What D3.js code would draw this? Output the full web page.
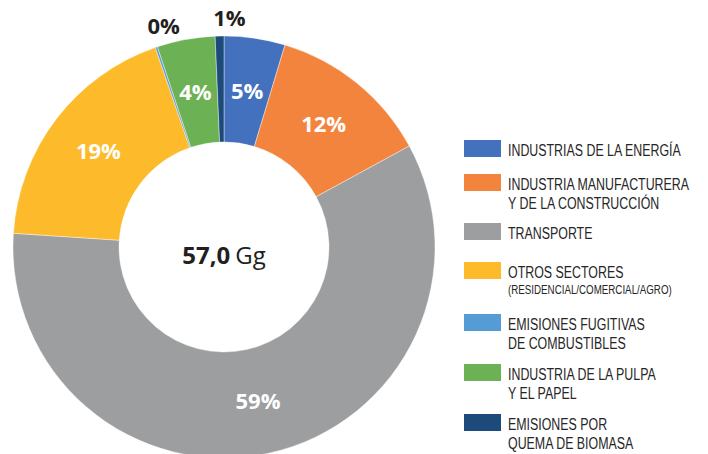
<!DOCTYPE html>
<html>
<head>
    <meta charset="utf-8">
    <title>Emisiones por sector</title>
    <style>
        body { margin: 0; background: #fff; }
        svg { display: block; }
        .pct { font-family: "Open Sans", sans-serif; font-weight: 700; font-size: 22px; }
        .leg { font-family: "Liberation Sans", Arial, sans-serif; fill: #262626; }
    </style>
    <script src="https://d3js.org/d3.v7.min.js"></script>
</head>
<body>
    <div id="chart"></div>

    <script>
// sectores, en el orden del grafico (sentido horario desde arriba)
var categories = [
    ['INDUSTRIAS DE LA ENERGÍA'],
    ['INDUSTRIA MANUFACTURERA', 'Y DE LA CONSTRUCCIÓN'],
    ['TRANSPORTE'],
    ['OTROS SECTORES'],
    ['EMISIONES FUGITIVAS', 'DE COMBUSTIBLES'],
    ['INDUSTRIA DE LA PULPA', 'Y EL PAPEL'],
    ['EMISIONES POR', 'QUEMA DE BIOMASA']
];
var subNotes = ['', '', '', '(RESIDENCIAL/COMERCIAL/AGRO)', '', '', ''];
// participacion (%)
var shares = [4.67, 12.4, 59.0, 18.7, 0.17, 4.44, 0.67];
var pctLabels = ['5%', '12%', '59%', '19%', '0%', '4%', '1%'];
var colors = ['#4371BE', '#F3843E', '#9D9EA0', '#FDBB2B', '#559BD6', '#6CB154', '#1B4A7B'];
var total = '57,0';
var unit = 'Gg';

var width = 708, height = 454;
var cx = 224, cy = 247, outerR = 211, innerR = 105;

var svg = d3.select('#chart').append('svg')
    .attr('width', width)
    .attr('height', height);

var g = svg.append('g')
    .attr('transform', 'translate(' + cx + ',' + cy + ')');

var pie = d3.pie().sort(null).value(function(d) { return d; });
var arcs = pie(shares);

var arc = d3.arc().innerRadius(innerR).outerRadius(outerR);
var outArc = d3.arc().innerRadius(229).outerRadius(229);

g.selectAll('path')
    .data(arcs)
    .enter()
    .append('path')
    .attr('d', arc)
    .attr('fill', function(d, i) { return colors[i]; })
    .attr('stroke', '#fff')
    .attr('stroke-width', 0.4);

// small slices get their label outside, nudged apart a bit
var outsideNudge = { 4: 0.06, 6: 0.045 };

g.selectAll('text.pct')
    .data(arcs)
    .enter()
    .append('text')
    .attr('class', 'pct')
    .attr('text-anchor', 'middle')
    .attr('dy', '0.36em')
    .attr('fill', function(d, i) { return (i in outsideNudge) ? '#231f20' : '#fff'; })
    .attr('transform', function(d, i) {
        if (i in outsideNudge) {
            var a = (d.startAngle + d.endAngle) / 2 + outsideNudge[i];
            var p = outArc.centroid({ startAngle: a, endAngle: a });
            return 'translate(' + p + ')';
        }
        return 'translate(' + arc.centroid(d) + ')';
    })
    .text(function(d, i) { return pctLabels[i]; });

// total in the hole
var tot = g.append('text')
    .attr('text-anchor', 'middle')
    .attr('y', 17)
    .attr('font-family', '"Open Sans", sans-serif')
    .attr('font-size', 24)
    .attr('fill', '#231f20');
tot.append('tspan').attr('font-weight', 700).text(total);
tot.append('tspan').attr('dx', 5).text(unit);

// legend
var rowTops = [140, 174, 223, 262, 314, 364, 414];
var legend = svg.append('g').attr('transform', 'translate(464,0)');

var rows = legend.selectAll('g')
    .data(categories)
    .enter()
    .append('g')
    .attr('transform', function(d, i) { return 'translate(0,' + rowTops[i] + ')'; });

rows.append('rect')
    .attr('width', 37)
    .attr('height', 17)
    .attr('fill', function(d, i) { return colors[i]; });

// condensed look: squeeze the text horizontally
var textG = rows.append('g').attr('transform', 'translate(44,0)');
var firstLines = [];

textG.each(function(d, i) {
    var t = d3.select(this).append('text')
        .attr('class', 'leg')
        .attr('y', 16.5)
        .attr('font-size', 16.5);
    d.forEach(function(line, k) {
        var ts = t.append('tspan').attr('x', 0).attr('dy', k === 0 ? 0 : 19).text(line);
        if (i === 0 && k === 0) firstLines.push(ts);
    });
    if (subNotes[i]) {
        d3.select(this).append('text')
            .attr('class', 'leg')
            .attr('y', 32.5)
            .attr('font-size', 13)
            .text(subNotes[i]);
    }
});

var natural = firstLines[0].node().getComputedTextLength();
var sx = 173 / natural;
textG.attr('transform', 'translate(44,0) scale(' + sx + ',1)');
    </script>
</body>
</html>
